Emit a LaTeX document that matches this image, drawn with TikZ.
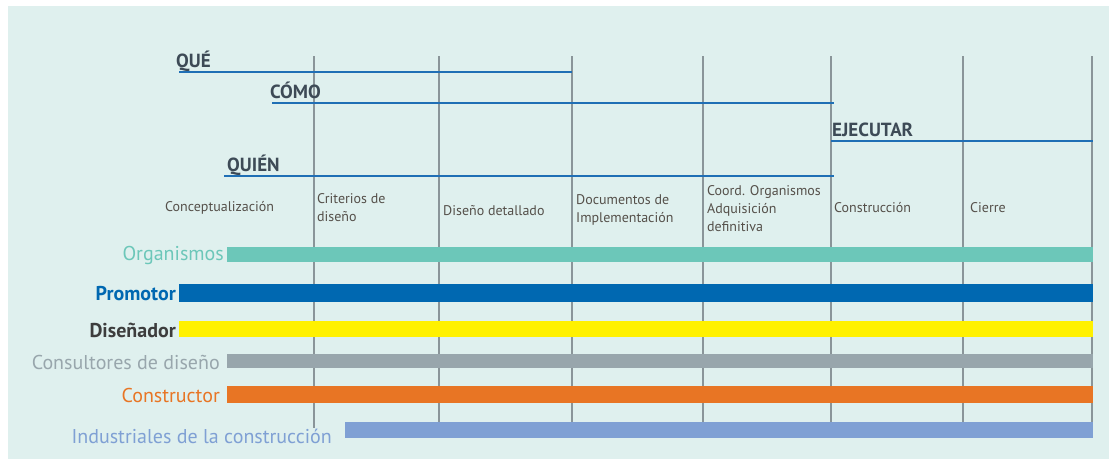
\documentclass[tikz,border=0pt]{standalone}
\usepackage{fontspec}
\setmainfont{PT Sans}
\usepackage{tikz}
\usetikzlibrary{positioning,calc}
\usepackage{xcolor}
\definecolor{bgcolor}{RGB}{223, 240, 238}
\definecolor{gridcolor}{RGB}{138, 149, 153}
\definecolor{scopecolor}{RGB}{31, 111, 181}
\definecolor{headcolor}{RGB}{61, 74, 86}
\definecolor{phasecolor}{RGB}{85, 80, 74}
\definecolor{orgcolor}{RGB}{108, 199, 185}
\definecolor{promcolor}{RGB}{0, 104, 177}
\definecolor{discolor}{RGB}{255, 241, 0}
\definecolor{distext}{RGB}{61, 61, 61}
\definecolor{conscolor}{RGB}{152, 166, 172}
\definecolor{constcolor}{RGB}{232, 117, 36}
\definecolor{indcolor}{RGB}{127, 160, 212}

\begin{document}
\begin{tikzpicture}[
    x=1pt, y=-1pt,
    grid/.style={draw=gridcolor, line width=1.4pt},
    scope line/.style={draw=scopecolor, line width=2pt},
    head/.style={font=\fontsize{19}{19}\selectfont\bfseries, text=headcolor, inner sep=0pt, anchor=base west},
    phase/.style={font=\fontsize{14}{18}\selectfont, text=phasecolor, align=left, inner sep=0pt, anchor=west},
    actor/.style={font=\fontsize{20}{20}\selectfont, inner sep=0pt, anchor=east}
]
    \useasboundingbox (0,0) rectangle (1109,459);
    \fill[bgcolor] (8,6) rectangle (1109,459);

    % Phase boundaries
    \draw[grid] (314,56) -- (314,428);
    \draw[grid] (439,56) -- (439,428);
    \draw[grid] (572,56) -- (572,428);
    \draw[grid] (703,56) -- (703,428);
    \draw[grid] (831,56) -- (831,428);
    \draw[grid] (963,56) -- (963,428);
    \draw[grid] (1092,56) -- (1092,428);

    % Questions
    \node[head] (que) at (176,67) {QUÉ};
    \node[head] (como) at (270,98) {CÓMO};
    \node[head] (ejecutar) at (832,136) {EJECUTAR};
    \node[head] (quien) at (227,171) {QUIÉN};
    \draw[scope line] (179,72) -- (572,72);
    \draw[scope line] (272,103) -- (834,103);
    \draw[scope line] (831,141) -- (1093,141);
    \draw[scope line] (224,176) -- (834,176);

    % Phases
    \node[phase] (concep) at (165,208) {Conceptualización};
    \node[phase] (criterios) at (317,208) {Criterios de\\diseño};
    \node[phase] (detalle) at (443,211) {Diseño detallado};
    \node[phase] (docs) at (576,210) {Documentos de\\Implementación};
    \node[phase] (coord) at (707,209) {Coord. Organismos\\Adquisición\\definitiva};
    \node[phase] (constr) at (834,208) {Construcción};
    \node[phase] (cierre) at (970,208) {Cierre};

    % Actors
    \fill[orgcolor] (227,247) rectangle (1093,262);
    \fill[promcolor] (179,284) rectangle (1093,302);
    \fill[discolor] (179,321) rectangle (1093,337);
    \fill[conscolor] (227,354) rectangle (1093,368);
    \fill[constcolor] (227,386) rectangle (1093,403);
    \fill[indcolor] (345,422) rectangle (1093,438);

    \node[actor, text=orgcolor] (organismos) at (224,255) {Organismos};
    \node[actor, text=promcolor, font=\fontsize{20}{20}\selectfont\bfseries] (promotor) at (176,294) {Promotor};
    \node[actor, text=distext, font=\fontsize{20}{20}\selectfont\bfseries] (disenador) at (176,330) {Diseñador};
    \node[actor, text=conscolor] (consultores) at (220,362) {Consultores de diseño};
    \node[actor, text=constcolor] (constructor) at (220,395) {Constructor};
    \node[actor, text=indcolor] (industriales) at (332,436) {Industriales de la construcción};
\end{tikzpicture}
\end{document}
